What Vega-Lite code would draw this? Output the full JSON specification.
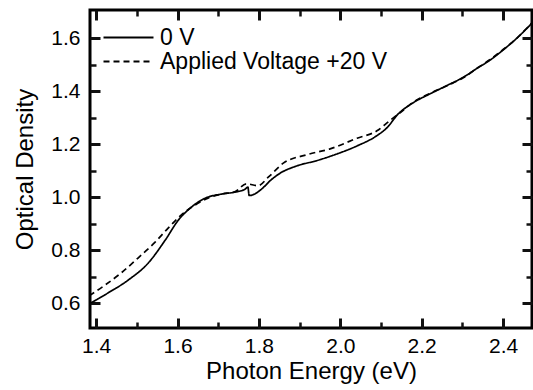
{
  "$schema": "https://vega.github.io/schema/vega-lite/v6.json",
  "width": 442,
  "height": 318,
  "autosize": "none",
  "padding": {"left": 90, "top": 10, "right": 1, "bottom": 62},
  "background": "white",
  "config": {
    "view": {"stroke": "black", "strokeWidth": 3},
    "font": "Liberation Sans",
    "axis": {"grid": false, "labelColor": "black", "titleColor": "black", "labelFont": "Liberation Sans", "titleFont": "Liberation Sans", "titleFontWeight": "normal"}
  },
  "datasets": {
    "spectra": [
      {"series": "0 V", "x": 1.386, "y": 0.600},
      {"series": "0 V", "x": 1.429, "y": 0.638},
      {"series": "0 V", "x": 1.479, "y": 0.687},
      {"series": "0 V", "x": 1.528, "y": 0.751},
      {"series": "0 V", "x": 1.570, "y": 0.838},
      {"series": "0 V", "x": 1.602, "y": 0.913},
      {"series": "0 V", "x": 1.634, "y": 0.962},
      {"series": "0 V", "x": 1.668, "y": 0.996},
      {"series": "0 V", "x": 1.707, "y": 1.011},
      {"series": "0 V", "x": 1.742, "y": 1.019},
      {"series": "0 V", "x": 1.766, "y": 1.030},
      {"series": "0 V", "x": 1.773, "y": 1.038},
      {"series": "0 V", "x": 1.776, "y": 1.006},
      {"series": "0 V", "x": 1.790, "y": 1.012},
      {"series": "0 V", "x": 1.810, "y": 1.035},
      {"series": "0 V", "x": 1.830, "y": 1.065},
      {"series": "0 V", "x": 1.852, "y": 1.090},
      {"series": "0 V", "x": 1.894, "y": 1.118},
      {"series": "0 V", "x": 1.943, "y": 1.138},
      {"series": "0 V", "x": 1.992, "y": 1.163},
      {"series": "0 V", "x": 2.041, "y": 1.193},
      {"series": "0 V", "x": 2.090, "y": 1.232},
      {"series": "0 V", "x": 2.115, "y": 1.262},
      {"series": "0 V", "x": 2.140, "y": 1.310},
      {"series": "0 V", "x": 2.179, "y": 1.356},
      {"series": "0 V", "x": 2.221, "y": 1.390},
      {"series": "0 V", "x": 2.262, "y": 1.421},
      {"series": "0 V", "x": 2.302, "y": 1.452},
      {"series": "0 V", "x": 2.336, "y": 1.486},
      {"series": "0 V", "x": 2.368, "y": 1.517},
      {"series": "0 V", "x": 2.400, "y": 1.555},
      {"series": "0 V", "x": 2.434, "y": 1.600},
      {"series": "0 V", "x": 2.466, "y": 1.649},
      {"series": "0 V", "x": 2.476, "y": 1.666},
      {"series": "Applied Voltage +20 V", "x": 1.383, "y": 0.628},
      {"series": "Applied Voltage +20 V", "x": 1.422, "y": 0.668},
      {"series": "Applied Voltage +20 V", "x": 1.461, "y": 0.713},
      {"series": "Applied Voltage +20 V", "x": 1.503, "y": 0.770},
      {"series": "Applied Voltage +20 V", "x": 1.545, "y": 0.830},
      {"series": "Applied Voltage +20 V", "x": 1.577, "y": 0.883},
      {"series": "Applied Voltage +20 V", "x": 1.609, "y": 0.932},
      {"series": "Applied Voltage +20 V", "x": 1.643, "y": 0.970},
      {"series": "Applied Voltage +20 V", "x": 1.675, "y": 0.996},
      {"series": "Applied Voltage +20 V", "x": 1.707, "y": 1.011},
      {"series": "Applied Voltage +20 V", "x": 1.742, "y": 1.021},
      {"series": "Applied Voltage +20 V", "x": 1.769, "y": 1.050},
      {"series": "Applied Voltage +20 V", "x": 1.798, "y": 1.043},
      {"series": "Applied Voltage +20 V", "x": 1.823, "y": 1.075},
      {"series": "Applied Voltage +20 V", "x": 1.860, "y": 1.128},
      {"series": "Applied Voltage +20 V", "x": 1.918, "y": 1.160},
      {"series": "Applied Voltage +20 V", "x": 1.975, "y": 1.182},
      {"series": "Applied Voltage +20 V", "x": 2.041, "y": 1.222},
      {"series": "Applied Voltage +20 V", "x": 2.090, "y": 1.250},
      {"series": "Applied Voltage +20 V", "x": 2.122, "y": 1.289},
      {"series": "Applied Voltage +20 V", "x": 2.150, "y": 1.322},
      {"series": "Applied Voltage +20 V", "x": 2.179, "y": 1.358},
      {"series": "Applied Voltage +20 V", "x": 2.221, "y": 1.392},
      {"series": "Applied Voltage +20 V", "x": 2.262, "y": 1.420},
      {"series": "Applied Voltage +20 V", "x": 2.302, "y": 1.450},
      {"series": "Applied Voltage +20 V", "x": 2.336, "y": 1.486},
      {"series": "Applied Voltage +20 V", "x": 2.368, "y": 1.519},
      {"series": "Applied Voltage +20 V", "x": 2.400, "y": 1.557},
      {"series": "Applied Voltage +20 V", "x": 2.434, "y": 1.600},
      {"series": "Applied Voltage +20 V", "x": 2.466, "y": 1.650},
      {"series": "Applied Voltage +20 V", "x": 2.476, "y": 1.666}
    ]
  },
  "data": {"name": "spectra"},
  "layer": [
    {
      "mark": {"type": "line", "clip": true, "color": "black", "strokeWidth": 1.7, "interpolate": "monotone"},
      "encoding": {
        "x": {"field": "x", "type": "quantitative",
          "scale": {"domain": [1.385, 2.471], "nice": false, "zero": false},
          "axis": {"orient": "bottom", "offset": -10, "domain": false, "values": [1.4, 1.6, 1.8, 2.0, 2.2, 2.4], "format": ".1f", "tickSize": 10, "tickWidth": 3, "tickColor": "#111111", "labelFontSize": 21, "labelPadding": 7, "title": "Photon Energy (eV)", "titleFontSize": 24, "titlePadding": 3}},
        "y": {"field": "y", "type": "quantitative",
          "scale": {"domain": [0.506, 1.706], "nice": false, "zero": false},
          "axis": {"orient": "left", "offset": -10, "domain": false, "values": [0.6, 0.8, 1.0, 1.2, 1.4, 1.6], "format": ".1f", "tickSize": 10, "tickWidth": 3, "tickColor": "#111111", "labelFontSize": 21, "labelPadding": 10, "title": "Optical Density", "titleFontSize": 24, "titlePadding": 13}},
        "strokeDash": {"field": "series", "type": "nominal",
          "scale": {"domain": ["0 V", "Applied Voltage +20 V"], "range": [[1, 0], [6, 4]]},
          "legend": {"orient": "none", "legendX": 2, "legendY": 16, "title": null, "symbolType": "M0,0H25", "symbolSize": 16, "symbolStrokeWidth": 1.8, "symbolStrokeColor": "black", "labelFontSize": 23, "labelFont": "Liberation Sans", "labelColor": "black", "labelOffset": 45, "labelLimit": 0, "rowPadding": -2, "padding": 0}}
      }
    },
    {
      "mark": {"type": "line", "clip": true, "opacity": 0},
      "encoding": {
        "x": {"field": "x", "type": "quantitative",
          "scale": {"domain": [1.385, 2.471], "nice": false, "zero": false},
          "axis": {"orient": "top", "offset": -10, "domain": false, "values": [1.4, 1.6, 1.8, 2.0, 2.2, 2.4], "tickSize": 10, "tickWidth": 3, "tickColor": "#111111", "labels": false, "title": null}},
        "y": {"field": "y", "type": "quantitative",
          "scale": {"domain": [0.506, 1.706], "nice": false, "zero": false},
          "axis": {"orient": "right", "offset": -10, "domain": false, "values": [0.6, 0.8, 1.0, 1.2, 1.4, 1.6], "tickSize": 10, "tickWidth": 3, "tickColor": "#111111", "labels": false, "title": null}},
        "detail": {"field": "series"}
      }
    },
    {
      "mark": {"type": "line", "clip": true, "opacity": 0},
      "encoding": {
        "x": {"field": "x", "type": "quantitative",
          "scale": {"domain": [1.385, 2.471], "nice": false, "zero": false},
          "axis": {"orient": "bottom", "offset": -6, "domain": false, "values": [1.5, 1.7, 1.9, 2.1, 2.3], "tickSize": 6, "tickWidth": 2.5, "tickColor": "#111111", "labels": false, "title": null}},
        "y": {"field": "y", "type": "quantitative",
          "scale": {"domain": [0.506, 1.706], "nice": false, "zero": false},
          "axis": {"orient": "left", "offset": -6, "domain": false, "values": [0.7, 0.9, 1.1, 1.3, 1.5], "tickSize": 6, "tickWidth": 2.5, "tickColor": "#111111", "labels": false, "title": null}},
        "detail": {"field": "series"}
      }
    },
    {
      "mark": {"type": "line", "clip": true, "opacity": 0},
      "encoding": {
        "x": {"field": "x", "type": "quantitative",
          "scale": {"domain": [1.385, 2.471], "nice": false, "zero": false},
          "axis": {"orient": "top", "offset": -6, "domain": false, "values": [1.5, 1.7, 1.9, 2.1, 2.3], "tickSize": 6, "tickWidth": 2.5, "tickColor": "#111111", "labels": false, "title": null}},
        "y": {"field": "y", "type": "quantitative",
          "scale": {"domain": [0.506, 1.706], "nice": false, "zero": false},
          "axis": {"orient": "right", "offset": -6, "domain": false, "values": [0.7, 0.9, 1.1, 1.3, 1.5], "tickSize": 6, "tickWidth": 2.5, "tickColor": "#111111", "labels": false, "title": null}},
        "detail": {"field": "series"}
      }
    }
  ],
  "resolve": {"axis": {"x": "independent", "y": "independent"}}
}
